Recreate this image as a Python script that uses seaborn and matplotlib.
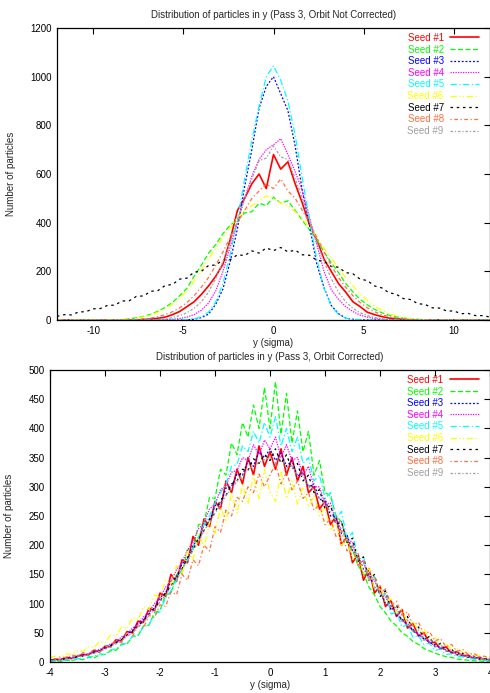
import numpy as np
import pandas as pd
import matplotlib
matplotlib.use("Agg")
import matplotlib.pyplot as plt
import seaborn as sns

# --- data ---
seeds = ["Seed #1", "Seed #2", "Seed #3", "Seed #4", "Seed #5",
         "Seed #6", "Seed #7", "Seed #8", "Seed #9"]
colors = ["#ff0000", "#00ff00", "#0000ff", "#ff00ff", "#00ffff",
          "#ffff00", "#000000", "#ff7040", "#a0a0a0"]

# top panel: y from -12 to 12 sigma, step 0.4
y_top = np.linspace(-12, 12, 61)
red_top = [0,0,0,0,0,0,0,0,0,0,0,0,
           2,4,7,12,22,35,55,75,105,140,180,230,330,450,500,560,600,540,680,620,
           650,560,480,390,330,250,200,150,115,75,55,32,22,14,8,5,3,1,
           0,0,0,0,0,0,0,0,0,0,0]
green_top = [0,0,0,0,0,0,0,0,
             1,2,5,9,15,24,36,52,72,100,130,180,225,275,310,355,390,410,440,445,
             480,470,505,480,490,450,410,370,330,280,235,195,150,115,85,62,44,30,
             20,13,8,5,3,1,
             0,0,0,0,0,0,0,0,0]
blue_top = [0,0,0,0,0,0,0,0,0,0,0,0,0,0,0,0,0,
            0,1,3,10,24,65,128,240,375,548,700,870,960,1000,930,860,715,530,385,
            230,133,60,26,8,3,1,
            0,0,0,0,0,0,0,0,0,0,0,0,0,0,0,0,0,0]
magenta_top = [0,0,0,0,0,0,0,0,0,0,0,0,0,0,0,
               1,3,6,12,22,40,70,120,200,300,400,500,590,660,700,720,745,680,
               610,530,420,310,200,125,85,55,35,20,12,6,3,1,
               0,0,0,0,0,0,0,0,0,0,0,0,0,0]
cyan_top = [0,0,0,0,0,0,0,0,0,0,0,0,0,0,0,0,0,
            1,2,5,13,32,75,150,270,410,580,740,880,1000,1045,985,900,760,580,
            410,250,130,58,22,8,3,1,
            0,0,0,0,0,0,0,0,0,0,0,0,0,0,0,0,0,0]
yellow_top = [0,0,0,0,0,0,0,0,
              1,3,5,8,13,21,32,47,66,90,120,160,205,250,295,340,380,420,450,470,
              490,510,500,480,470,445,415,380,340,295,255,215,175,140,108,80,58,
              40,27,17,10,6,3,1,
              0,0,0,0,0,0,0,0,0]
black_top = [15,22,21,33,34,46,47,60,61,78,79,97,99,118,121,142,146,168,172,197,
             200,224,226,247,248,268,265,284,275,296,285,298,280,287,268,266,245,
             241,220,217,195,190,168,162,140,132,112,106,88,84,67,64,50,49,37,37,
             26,27,18,18,12]
orange_top = [0,0,0,0,0,0,0,0,0,0,
              1,3,5,8,14,22,34,50,72,100,135,175,225,280,340,400,450,500,530,560,
              540,580,530,500,450,400,340,280,225,175,135,100,72,50,34,22,14,8,5,
              3,1,
              0,0,0,0,0,0,0,0,0,0]
gray_top = [0,0,0,0,0,0,0,0,0,0,0,0,0,0,
            2,5,10,18,30,48,75,115,170,240,320,410,500,580,655,665,715,670,660,
            580,500,410,320,240,170,115,75,48,30,18,10,5,2,1,
            0,0,0,0,0,0,0,0,0,0,0,0,0]

# bottom panel: y from -4 to 4 sigma, step 0.1
y_bot = np.linspace(-4, 4, 81)
red_bot = [2,5,4,8,6,10,13,12,20,17,27,26,38,36,52,50,70,68,92,88,
           118,112,150,138,175,170,215,200,245,232,275,262,310,290,330,305,350,320,370,335,
           360,
           330,365,320,350,310,335,290,300,262,275,235,250,200,215,170,185,140,160,118,130,
           95,105,78,90,58,66,44,50,32,34,22,26,15,18,10,12,6,8,4,3]
green_bot = [1,2,1,3,2,5,4,8,7,12,13,19,20,30,31,44,45,62,63,85,
             88,115,118,150,152,192,195,235,238,282,280,330,320,375,355,410,385,440,400,470,
             400,
             480,390,460,375,430,360,395,320,345,290,285,250,240,205,192,165,152,128,115,95,
             84,70,62,50,44,35,30,23,19,15,12,9,8,5,4,3,2,2,1,0]
blue_bot = [3,3,5,5,8,9,12,13,18,19,25,28,35,38,48,54,66,72,86,92,
            110,118,138,146,168,178,200,210,235,240,268,270,298,300,322,320,345,335,360,350,
            365,
            345,358,335,345,318,325,300,305,278,280,250,248,220,218,190,184,158,150,128,122,
            100,96,80,74,62,56,46,42,33,30,24,21,17,15,12,10,8,7,5,4]
magenta_bot = [2,4,4,6,7,10,11,15,16,22,24,31,34,43,47,58,64,77,86,100,
               110,128,138,158,170,192,205,228,238,262,270,295,302,325,328,350,345,372,355,380,
               365,
               385,350,372,345,350,320,335,300,300,270,272,240,240,210,205,175,172,145,140,118,
               112,92,88,70,66,52,48,38,35,27,25,19,17,13,11,9,7,6,4,3]
cyan_bot = [1,2,2,4,3,6,5,9,10,14,13,21,22,31,32,44,46,60,64,82,
            86,110,122,140,158,175,195,215,235,250,272,290,305,335,338,370,360,395,375,410,
            385,
            420,370,400,360,385,340,350,310,320,280,290,245,258,210,222,175,180,142,146,112,
            116,82,86,60,64,42,45,30,32,20,22,13,14,9,9,6,5,4,3,2]
yellow_bot = [8,10,9,14,13,19,18,26,25,35,33,46,44,60,57,76,72,95,90,115,
              110,140,132,165,150,190,175,220,195,240,220,265,240,290,255,305,270,320,280,330,
              290,
              275,325,280,310,270,300,265,285,250,265,225,240,200,210,175,185,150,160,125,130,
              102,108,84,90,66,70,52,56,40,42,30,32,22,24,16,18,11,12,8,7]
black_bot = [3,4,4,6,6,9,10,13,16,19,23,28,33,38,46,52,62,70,82,92,
             104,118,130,146,160,178,192,212,225,245,255,278,285,305,310,330,328,348,340,355,
             345,
             365,340,355,330,340,310,320,290,295,262,268,235,240,205,212,172,180,140,150,112,
             122,88,98,68,78,50,60,38,44,26,32,18,22,12,15,8,10,5,6,4]
orange_bot = [8,5,9,7,12,10,16,13,22,17,28,24,38,33,50,44,62,58,80,76,
              98,95,120,115,150,140,175,165,200,190,232,222,260,250,282,275,300,290,322,300,
              320,
              340,305,325,295,310,280,290,260,270,235,245,215,225,190,200,165,175,140,148,118,
              125,98,104,80,86,62,68,48,52,36,40,26,30,18,22,13,15,9,10,6]
gray_bot = [2,3,4,5,6,8,10,12,15,18,22,26,31,36,44,50,60,68,80,90,
            103,114,130,143,160,172,192,205,225,238,255,268,285,296,310,318,330,335,342,346,
            350,
            340,352,332,338,318,320,300,296,280,270,258,240,228,208,200,172,170,140,142,115,
            118,90,94,70,72,52,55,38,40,27,30,19,21,13,14,9,9,6,5,3]

top_series = [red_top, green_top, blue_top, magenta_top, cyan_top,
              yellow_top, black_top, orange_top, gray_top]
bot_series = [red_bot, green_bot, blue_bot, magenta_bot, cyan_bot,
              yellow_bot, black_bot, orange_bot, gray_bot]

# gnuplot-like line types
styles = ["-", (0, (4, 2)), (0, (1.5, 1.5)), (0, (1, 1)), (0, (5, 2, 1, 2)),
          (0, (5, 2, 1, 2, 1, 2)), (0, (2, 3)), (0, (1, 2, 3, 2)), (0, (2, 1.5, 1, 1.5))]
widths = [1.2, 0.9, 0.9, 0.9, 0.9, 0.9, 0.9, 0.9, 0.9]

sns.set_theme(style="white")
plt.rcParams["font.family"] = ["Liberation Sans", "DejaVu Sans"]
plt.rcParams["axes.edgecolor"] = "black"
plt.rcParams["axes.linewidth"] = 0.9
plt.rcParams["axes.unicode_minus"] = False

fig = plt.figure(figsize=(4.9, 6.93), dpi=100)
ax1 = fig.add_axes([57/490, 1-320/693, 1-57/490, 292/693])
ax2 = fig.add_axes([50/490, 1-662/693, 1-50/490, 292/693])


def draw(ax, x, series, xlim, ylim, xticks, yticks, title, ylab_x):
    for name, vals, c, ls, lw in zip(seeds, series, colors, styles, widths):
        df = pd.DataFrame({"y": x, "n": vals})
        sns.lineplot(data=df, x="y", y="n", ax=ax, color=c, linestyle=ls,
                     linewidth=lw, label=name)
    ax.set_xlim(*xlim)
    ax.set_ylim(*ylim)
    ax.set_xticks(xticks)
    ax.set_yticks(yticks)
    ax.tick_params(direction="in", length=4, width=0.8, top=True, right=True,
                   labelsize=7, pad=4, colors="black")
    ax.set_xlabel("y (sigma)", fontsize=7, labelpad=2)
    ax.set_ylabel("Number of particles", fontsize=7)
    ax.yaxis.set_label_coords(ylab_x, 0.5)
    ax.set_title(title, fontsize=7, pad=7)
    leg = ax.legend(loc="upper right", bbox_to_anchor=(0.985, 1.0),
                    frameon=False, fontsize=7,
                    markerfirst=False, handlelength=2.9, handletextpad=0.7,
                    labelspacing=0.17, borderaxespad=0.3, borderpad=0.2)
    for t, c in zip(leg.get_texts(), colors):
        t.set_color(c)


draw(ax1, y_top, top_series, (-12, 12), (0, 1200), [-10, -5, 0, 5, 10],
     range(0, 1201, 200),
     "Distribution of particles in y (Pass 3, Orbit Not Corrected)", -0.095)
draw(ax2, y_bot, bot_series, (-4, 4), (0, 500), range(-4, 5),
     range(0, 501, 50),
     "Distribution of particles in y (Pass 3, Orbit Corrected)", -0.082)

fig.savefig("out.png", dpi=100, facecolor="white")
